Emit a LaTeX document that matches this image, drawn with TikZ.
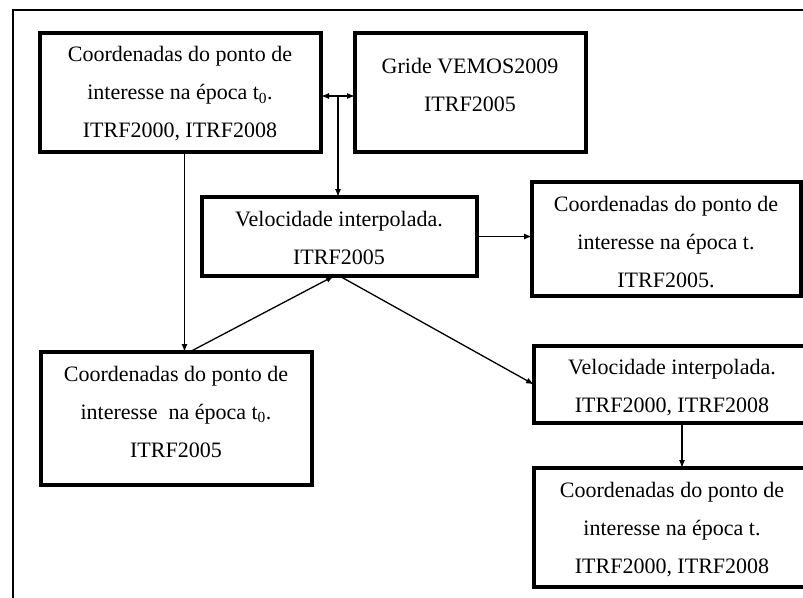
\documentclass[tikz,border=0pt]{standalone}
\usepackage{fontspec}
\setmainfont{Liberation Serif}
\usetikzlibrary{arrows.meta,calc}
\tikzset{
  box/.style 2 args={draw, line width=3.2pt, anchor=north west, minimum width=#1, minimum height=#2, inner sep=0pt, outer sep=0pt},
  txt/.style={align=center, font=\fontsize{22}{38}\selectfont, inner sep=0pt},
  conn/.style={line width=1.3pt, -{Latex[length=8pt,width=6pt]}},
  dbl/.style={line width=1.3pt, {Latex[length=8pt,width=6pt]}-{Latex[length=8pt,width=6pt]}},
  frame/.style={line width=2.2pt}
}
\begin{document}
\begin{tikzpicture}[x=1pt,y=-1pt]
\useasboundingbox (0,0) rectangle (803,597);
\clip (0,0) rectangle (803,597);
\fill[white] (0,0) rectangle (803,597);
\draw[frame] (13,610) -- (13,10) -- (820,10);
% boxes
\node[box={281pt}{119pt}] (A) at (40,33) {};
\node[box={231pt}{119pt}] (B) at (355,33) {};
\node[box={275pt}{79pt}]  (C) at (202,197) {};
\node[box={269pt}{114pt}] (D) at (532,182) {};
\node[box={271pt}{133pt}] (E) at (41,352) {};
\node[box={276pt}{77pt}]  (F) at (534,346) {};
\node[box={276pt}{119pt}] (G) at (534,468) {};
% texts
\node[txt] (At) at (180,94) {Coordenadas do ponto de\\interesse na época t\textsubscript{0}.\\ITRF2000, ITRF2008};
\node[txt] (Bt) at (470,85) {Gride VEMOS2009\\ITRF2005};
\node[txt] (Ct) at (339,238) {Velocidade interpolada.\\ITRF2005};
\node[txt] (Dt) at (666,242) {Coordenadas do ponto de\\interesse na época t.\\ITRF2005.};
\node[txt] (Et) at (176,412) {Coordenadas do ponto de\\interesse\ \ na época t\textsubscript{0}.\\ITRF2005};
\node[txt] (Ft) at (672,388) {Velocidade interpolada.\\ITRF2000, ITRF2008};
\node[txt] (Gt) at (672,530) {Coordenadas do ponto de\\interesse na época t.\\ITRF2000, ITRF2008};
% connectors
\coordinate (m) at ($(A.east)!0.5!(B.west)+(0,3.5)$);
\draw[dbl] (A.east |- m) -- (B.west |- m);
\draw[conn] (m) -- (m |- C.north);
\draw[conn] (C.east) -- (C.east -| D.west);
\coordinate (ae) at ([xshift=4pt]A.south);
\draw[conn] (ae) -- (ae |- E.north);
\draw[conn] ([xshift=13pt]E.north) -- ([xshift=-5.5pt]C.south);
\draw[conn] (C.south) -- (F.west);
\coordinate (fs) at ([xshift=10pt]F.south);
\draw[conn] (fs) -- (fs |- G.north);
\end{tikzpicture}
\end{document}
